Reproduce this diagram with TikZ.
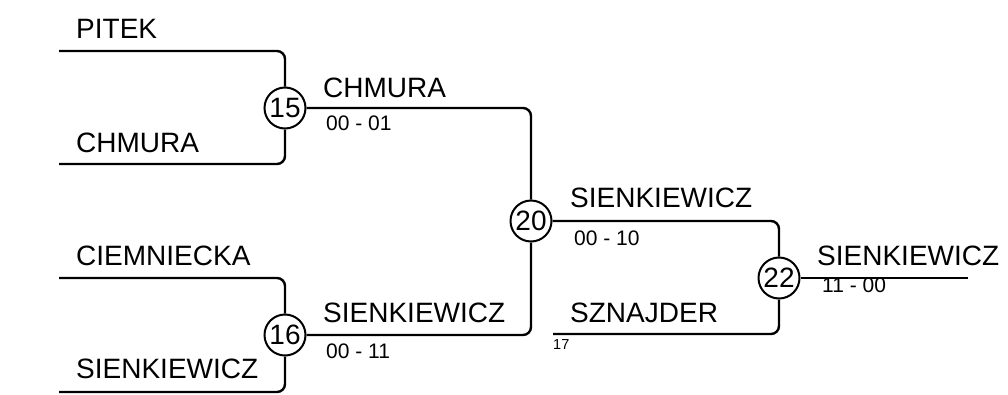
\documentclass[tikz,border=0pt]{standalone}
\usepackage{fontspec}
\setmainfont{Liberation Sans}
\begin{document}
\begin{tikzpicture}[x=1pt,y=-1pt,
  lnk/.style={line width=2.4pt,rounded corners=8pt},
  game/.style={circle,draw,line width=2pt,minimum size=41pt,inner sep=0pt,font=\fontsize{28}{28}\selectfont},
  pname/.style={anchor=base west,inner sep=0pt,font=\fontsize{28}{28}\selectfont},
  pscore/.style={anchor=base west,inner sep=0pt,font=\fontsize{21}{21}\selectfont},
  psmall/.style={anchor=base west,inner sep=0pt,font=\fontsize{14.5}{14.5}\selectfont}]
\useasboundingbox (0,0) rectangle (1008,394);
% games
\node[game] (c15) at (285,108) {15};
\node[game] (c16) at (285,335) {16};
\node[game] (c20) at (531,221) {20};
\node[game] (c22) at (779,278) {22};
% line starts
\coordinate (p1) at (59,51);
\coordinate (p2) at (59,164);
\coordinate (p3) at (59,278);
\coordinate (p4) at (59,392);
\coordinate (p17) at (553,334);
\coordinate (fin) at (968,278);
% connectors
\draw[lnk] (p1) -| (c15);
\draw[lnk] (p2) -| (c15);
\draw[lnk] (p3) -| (c16);
\draw[lnk] (p4) -| (c16);
\draw[lnk] (c15) -| (c20);
\draw[lnk] (c16) -| (c20);
\draw[lnk] (c20) -| (c22);
\draw[lnk] (p17) -| (c22);
\draw[lnk] (c22) -- (fin);
% names
\node[pname] (n1) at (76,38) {PITEK};
\node[pname] (n2) at (76,152) {CHMURA};
\node[pname] (n3) at (76,265) {CIEMNIECKA};
\node[pname] (n4) at (76,378) {SIENKIEWICZ};
\node[pname] (w15) at (323,97) {CHMURA};
\node[pscore] (s15) at (326,130) {00 - 01};
\node[pname] (w16) at (323,322) {SIENKIEWICZ};
\node[pscore] (s16) at (326,358) {00 - 11};
\node[pname] (w20) at (570,207) {SIENKIEWICZ};
\node[pscore] (s20) at (574,245) {00 - 10};
\node[pname] (n17) at (570,322) {SZNAJDER};
\node[psmall] (l17) at (553,349) {17};
\node[pname] (w22) at (817,265) {SIENKIEWICZ};
\node[pscore] (s22) at (822,292) {11 - 00};
\end{tikzpicture}
\end{document}
